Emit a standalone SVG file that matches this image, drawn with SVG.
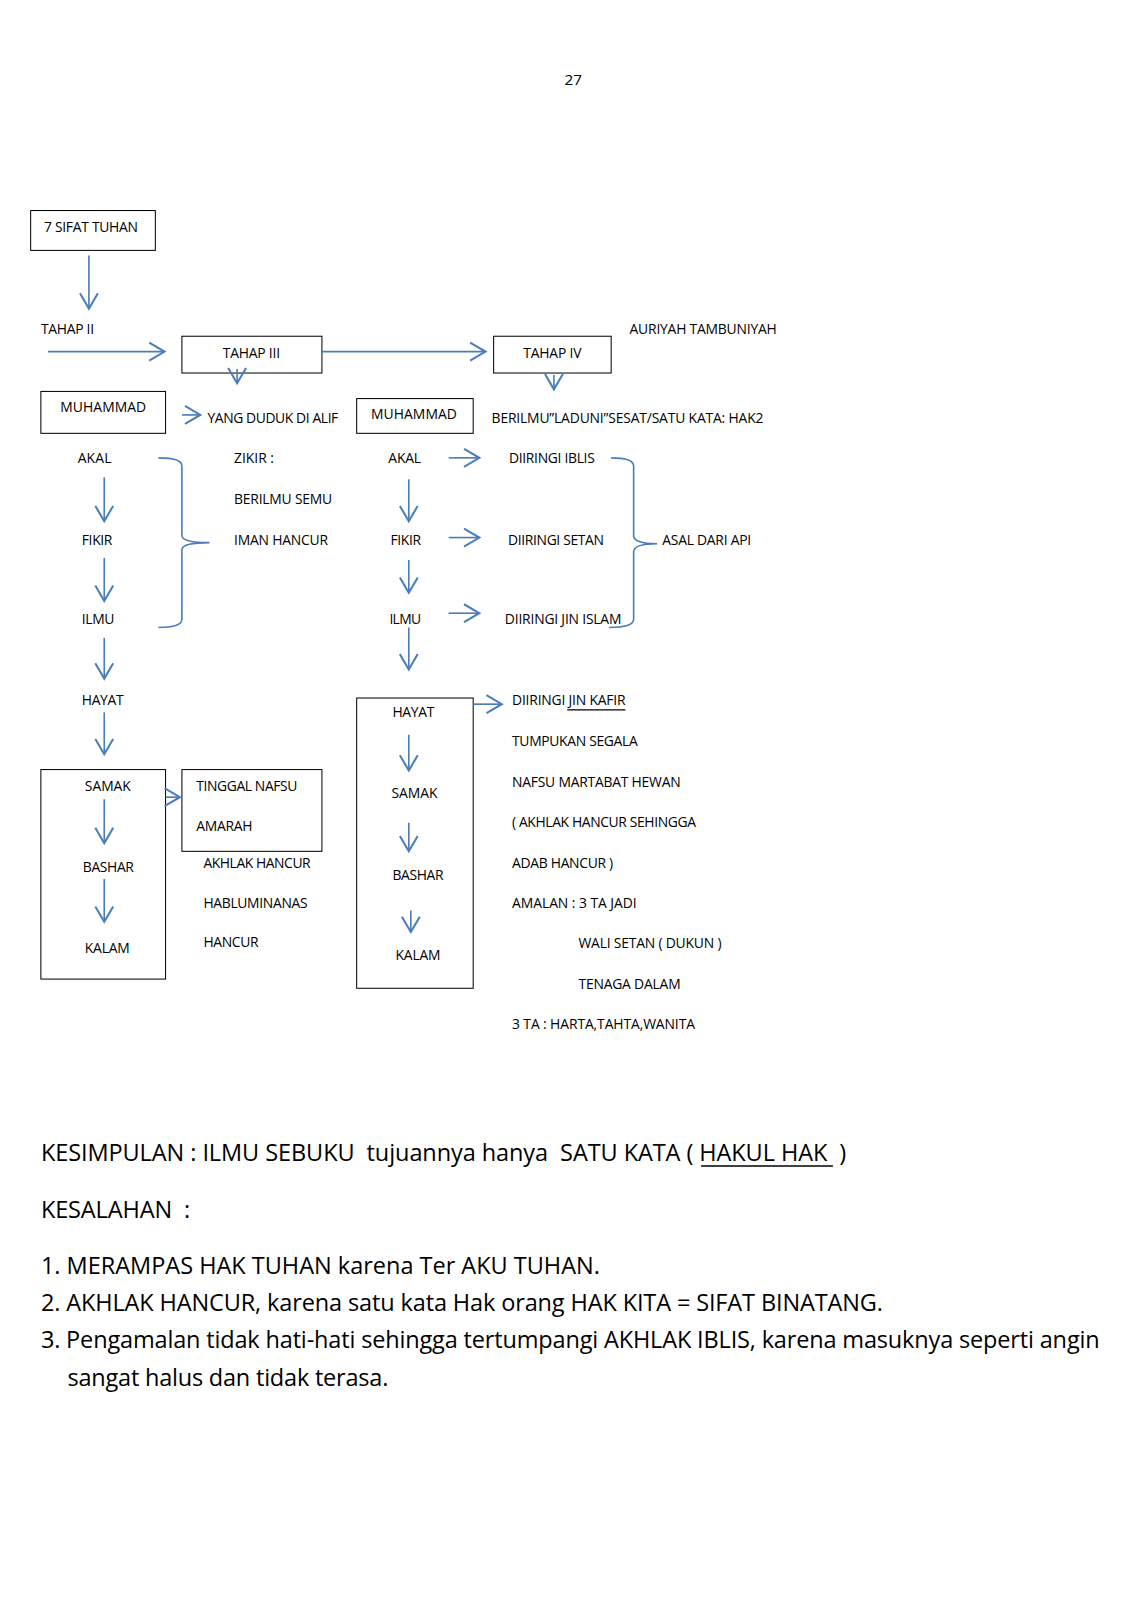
<svg xmlns="http://www.w3.org/2000/svg" width="1132" height="1600" viewBox="0 0 1132 1600">
<style>
text{font-family:"Open Sans","Liberation Sans",sans-serif;fill:#000}
.s{font-size:13.6px}
.b{font-size:23px}
.box{fill:none;stroke:#000;stroke-width:1}
.c{fill:none;stroke:#4a7ebb;stroke-width:1.6}
.u{stroke:#000;stroke-width:1.2}
</style>
<defs>
<marker id="a" markerUnits="userSpaceOnUse" markerWidth="20" markerHeight="20" viewBox="-14 -8 16 16" refX="0" refY="0" orient="auto">
<path d="M-12,-7 L0,0 L-12,7" fill="none" stroke="#4a7ebb" stroke-width="1.6"/>
</marker>
</defs>
<rect width="1132" height="1600" fill="#fff"/>
<g transform="scale(1.022)">
<text x="561" y="83" text-anchor="middle" font-size="15">27</text>

<g id="n-sifat"><rect class="box" x="30" y="206" width="122" height="39"/><text class="s" x="43" y="227" textLength="92">7 SIFAT TUHAN</text></g>
<g id="n-tahap2"><text class="s" x="40" y="327" textLength="52">TAHAP II</text></g>
<g id="n-tahap3"><rect class="box" x="178" y="329" width="137" height="36"/><text class="s" x="218" y="350" textLength="56">TAHAP III</text></g>
<g id="n-tahap4"><rect class="box" x="483" y="329" width="115" height="36"/><text class="s" x="512" y="350" textLength="57">TAHAP IV</text></g>
<g id="n-auriyah"><text class="s" x="616" y="327" textLength="144">AURIYAH TAMBUNIYAH</text></g>
<g id="n-muh1"><rect class="box" x="40" y="383" width="122" height="41"/><text class="s" x="59" y="403" textLength="84">MUHAMMAD</text></g>
<g id="n-yang"><text class="s" x="203" y="414" textLength="128">YANG DUDUK DI ALIF</text></g>
<g id="n-muh2"><rect class="box" x="349" y="390" width="114" height="34"/><text class="s" x="363" y="410" textLength="84">MUHAMMAD</text></g>
<g id="n-berilmu"><text class="s" x="481" y="414" textLength="266">BERILMU”LADUNI”SESAT/SATU KATA: HAK2</text></g>

<g id="n-left">
<text class="s" x="76" y="453" textLength="33">AKAL</text>
<text class="s" x="80" y="533" textLength="30">FIKIR</text>
<text class="s" x="80" y="611" textLength="32">ILMU</text>
<text class="s" x="80" y="690" textLength="41">HAYAT</text>
</g>
<g id="n-zikir">
<text class="s" x="229" y="453" textLength="39">ZIKIR :</text>
<text class="s" x="229" y="493" textLength="96">BERILMU SEMU</text>
<text class="s" x="229" y="533" textLength="92">IMAN HANCUR</text>
</g>
<g id="n-mid">
<text class="s" x="380" y="453" textLength="32">AKAL</text>
<text class="s" x="382" y="533" textLength="30">FIKIR</text>
<text class="s" x="381" y="611" textLength="31">ILMU</text>
</g>
<g id="n-diiringi">
<text class="s" x="498" y="453" textLength="84">DIIRINGI IBLIS</text>
<text class="s" x="497" y="533" textLength="94">DIIRINGI SETAN</text>
<text class="s" x="494" y="611" textLength="114">DIIRINGI JIN ISLAM</text>
</g>
<g id="n-asal"><text class="s" x="648" y="533" textLength="87">ASAL DARI API</text></g>

<g id="n-box1"><rect class="box" x="40" y="753" width="122" height="205"/>
<text class="s" x="83" y="774" textLength="45">SAMAK</text>
<text class="s" x="81" y="853" textLength="50">BASHAR</text>
<text class="s" x="83" y="932" textLength="44">KALAM</text>
</g>
<g id="n-tinggal"><rect class="box" x="178" y="753" width="137" height="80"/>
<text class="s" x="192" y="774" textLength="99">TINGGAL NAFSU</text>
<text class="s" x="192" y="813" textLength="55">AMARAH</text>
</g>
<g id="n-akhlak">
<text class="s" x="199" y="849" textLength="105">AKHLAK HANCUR</text>
<text class="s" x="199" y="888" textLength="102">HABLUMINANAS</text>
<text class="s" x="199" y="927" textLength="54">HANCUR</text>
</g>
<g id="n-box2"><rect class="box" x="349" y="683" width="114" height="284"/>
<text class="s" x="384" y="702" textLength="41">HAYAT</text>
<text class="s" x="383" y="781" textLength="45">SAMAK</text>
<text class="s" x="384" y="861" textLength="50">BASHAR</text>
<text class="s" x="387" y="939" textLength="44">KALAM</text>
</g>
<g id="n-kafir">
<text class="s" x="501" y="690" textLength="111">DIIRINGI JIN KAFIR</text>
<line class="u" x1="555" y1="694.5" x2="612" y2="694.5"/>
<text class="s" x="501" y="730" textLength="123">TUMPUKAN SEGALA</text>
<text class="s" x="501" y="770" textLength="165">NAFSU MARTABAT HEWAN</text>
<text class="s" x="501" y="809" textLength="180">( AKHLAK HANCUR SEHINGGA</text>
<text class="s" x="501" y="849" textLength="99">ADAB HANCUR )</text>
<text class="s" x="501" y="888" textLength="122">AMALAN : 3 TA JADI</text>
<text class="s" x="566" y="928" textLength="140">WALI SETAN ( DUKUN )</text>
<text class="s" x="566" y="968" textLength="100">TENAGA DALAM</text>
<text class="s" x="501" y="1007" textLength="179">3 TA : HARTA,TAHTA,WANITA</text>
</g>

<g id="connectors">
<line class="c" x1="87" y1="250" x2="87" y2="302" marker-end="url(#a)"/>
<line class="c" x1="47" y1="344" x2="161" y2="344" marker-end="url(#a)"/>
<line class="c" x1="315" y1="344" x2="475" y2="344" marker-end="url(#a)"/>
<line class="c" x1="232" y1="361" x2="232" y2="375" marker-end="url(#a)"/>
<line class="c" x1="542" y1="367" x2="542" y2="381" marker-end="url(#a)"/>
<line class="c" x1="178" y1="406" x2="196" y2="406" marker-end="url(#a)"/>
<line class="c" x1="102" y1="467" x2="102" y2="510" marker-end="url(#a)"/>
<line class="c" x1="102" y1="546" x2="102" y2="588" marker-end="url(#a)"/>
<line class="c" x1="102" y1="624" x2="102" y2="664" marker-end="url(#a)"/>
<line class="c" x1="102" y1="697" x2="102" y2="738" marker-end="url(#a)"/>
<path class="c" d="M155,448 Q178,448 178,456 L178,524 Q178,531 205,531 Q178,531 178,538 L178,606 Q178,614 155,614"/>
<line class="c" x1="439" y1="448" x2="469" y2="448" marker-end="url(#a)"/>
<line class="c" x1="439" y1="526" x2="469" y2="526" marker-end="url(#a)"/>
<line class="c" x1="439" y1="600" x2="469" y2="600" marker-end="url(#a)"/>
<line class="c" x1="400" y1="469" x2="400" y2="510" marker-end="url(#a)"/>
<line class="c" x1="400" y1="548" x2="400" y2="580" marker-end="url(#a)"/>
<line class="c" x1="400" y1="614" x2="400" y2="655" marker-end="url(#a)"/>
<path class="c" d="M598,448 Q620,448 620,456 L620,524 Q620,532 643,532 Q620,532 620,540 L620,606 Q620,614 596,614"/>
<line class="c" x1="102" y1="782" x2="102" y2="825" marker-end="url(#a)"/>
<line class="c" x1="102" y1="860" x2="102" y2="902" marker-end="url(#a)"/>
<line class="c" x1="162" y1="780" x2="176" y2="780" marker-end="url(#a)"/>
<line class="c" x1="400" y1="719" x2="400" y2="754" marker-end="url(#a)"/>
<line class="c" x1="400" y1="805" x2="400" y2="833" marker-end="url(#a)"/>
<line class="c" x1="402" y1="891" x2="402" y2="912" marker-end="url(#a)"/>
<line class="c" x1="463" y1="689" x2="491" y2="689" marker-end="url(#a)"/>
</g>

<g id="summary">
<text class="b" x="40" y="1136" textLength="788" xml:space="preserve">KESIMPULAN : ILMU SEBUKU  tujuannya hanya  SATU KATA ( HAKUL HAK  )</text>
<line x1="686" y1="1141" x2="815" y2="1141" stroke="#000" stroke-width="1.5"/>
<text class="b" x="40" y="1192" textLength="146" xml:space="preserve">KESALAHAN  :</text>
<text class="b" x="40" y="1247" textLength="547">1. MERAMPAS HAK TUHAN karena Ter AKU TUHAN.</text>
<text class="b" x="40" y="1283" textLength="824">2. AKHLAK HANCUR, karena satu kata Hak orang HAK KITA = SIFAT BINATANG.</text>
<text class="b" x="40" y="1319" textLength="1036">3. Pengamalan tidak hati-hati sehingga tertumpangi AKHLAK IBLIS, karena masuknya seperti angin</text>
<text class="b" x="66" y="1356" textLength="314">sangat halus dan tidak terasa.</text>
</g>
</g>
</svg>
